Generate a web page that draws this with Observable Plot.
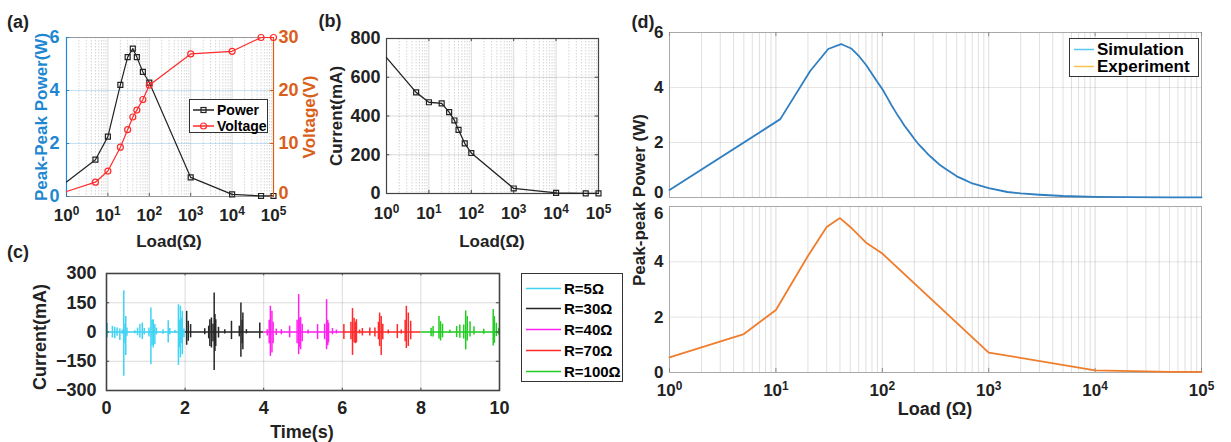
<!DOCTYPE html>
<html><head><meta charset="utf-8">
<script src="https://cdn.jsdelivr.net/npm/d3@7"></script>
<script src="https://cdn.jsdelivr.net/npm/@observablehq/plot@0.6"></script>
<style>
body{margin:0;background:#fff;}
#fig{position:relative;width:1231px;height:442px;overflow:hidden;font-family:"Liberation Sans",Arial,sans-serif;font-weight:bold;background:#fff;}
.lbl{position:absolute;white-space:nowrap;color:#222;line-height:1;}
.leg{position:absolute;background:#fff;border:1.3px solid #333;box-sizing:border-box;}
.leg .row{position:absolute;left:0;white-space:nowrap;line-height:1;}
</style></head><body><div id="fig"></div>
<script>
// ---------- data ----------
const loads = [1, 5, 10, 20, 30, 40, 50, 70, 100, 1000, 10000, 50000, 100000];
const powerW = [0.55, 1.39, 2.26, 4.21, 5.26, 5.58, 5.26, 4.70, 4.30, 0.72, 0.08, 0.02, 0.02];
const voltageV = [0.95, 2.7, 4.8, 9.3, 12.6, 15.0, 16.3, 18.3, 21.0, 26.9, 27.4, 30.0, 30.0];
const currentMA = [701, 522, 471, 465, 420, 377, 328, 259, 209, 26, 3, 1, 0.5];

const simLoad = [1, 11, 21, 31, 41, 51, 61, 71, 81, 91, 101, 111, 121, 131, 141, 151, 161, 181, 201, 221, 251, 271, 301, 351, 401, 451, 501, 601, 701, 801, 1001, 1501, 2001, 3001, 5001, 10001, 20001, 50001, 99991];
const simPower = [0.27, 2.85, 4.6, 5.4, 5.58, 5.42, 5.12, 4.8, 4.46, 4.17, 3.92, 3.64, 3.38, 3.16, 2.96, 2.79, 2.62, 2.36, 2.12, 1.92, 1.70, 1.56, 1.40, 1.17, 1.02, 0.89, 0.77, 0.63, 0.51, 0.45, 0.34, 0.2, 0.15, 0.1, 0.055, 0.025, 0.01, 0.004, 0.002];

const logMajor = [1, 10, 100, 1000, 10000, 100000];
const powerTicks = [0, 2, 4, 6];
const voltTicks = [0, 10, 20, 30];
const currentTicks = [0, 200, 400, 600, 800];
const cTimeTicks = [0, 2, 4, 6, 8, 10];
const cCurTicks = [-300, -150, 0, 150, 300];

const cSeries = ["R=5Ω", "R=30Ω", "R=40Ω", "R=70Ω", "R=100Ω"];
const cColors = ["#3fd3f4", "#262626", "#ff22ee", "#ff2a2a", "#22cc22"];
const cStart = [0, 2, 4, 6, 8];
const cEnd = [2, 4, 6, 8, 10];
// spikes: [time s, max mA, min mA]
const spikes5 = [[0.02,45,-30],[0.15,29,-31],[0.21,24,-34],[0.27,20,-22],[0.34,15,-44],[0.40,10,-12],[0.44,212,-227],[0.47,40,-60],[0.49,80,-120],[0.52,20,-22],[0.72,7,-9],[0.79,20,-19],[0.85,38,-31],[0.91,46,-39],[0.96,18,-15],[1.08,20,-25],[1.13,123,-168],[1.16,60,-70],[1.19,63,-82],[1.23,38,-65],[1.27,20,-15],[1.44,12,-12],[1.57,58,-56],[1.61,18,-14],[1.74,8,-8],[1.83,140,-171],[1.86,60,-80],[1.88,132,-133],[1.91,70,-60],[1.93,106,-116],[1.97,16,-30]];
const spikes30 = [[2.04,106,-68],[2.08,55,-48],[2.14,38,-30],[2.50,17,-14],[2.60,30,-35],[2.63,63,-74],[2.67,72,-82],[2.71,40,-50],[2.74,200,-198],[2.76,90,-100],[2.78,63,-74],[2.85,24,-31],[3.01,12,-10],[3.18,55,-39],[3.38,30,-25],[3.42,149,-130],[3.45,60,-60],[3.47,97,-91],[3.56,12,-10],[3.90,46,-34]];
const spikes40 = [[4.09,12,-20],[4.14,60,-60],[4.17,132,-125],[4.21,106,-108],[4.24,50,-60],[4.32,15,-18],[4.45,12,-14],[4.66,30,-30],[4.85,60,-60],[4.89,192,-116],[4.92,70,-80],[4.94,75,-91],[4.98,40,-50],[5.13,10,-10],[5.37,38,-39],[5.55,40,-40],[5.60,166,-91],[5.63,60,-70],[5.65,45,-55],[5.75,18,-14],[5.85,10,-10]];
const spikes70 = [[6.04,38,-39],[6.22,50,-40],[6.26,120,-120],[6.30,70,-55],[6.33,50,-60],[6.36,63,-56],[6.44,10,-10],[6.51,18,-20],[6.70,20,-20],[6.83,20,-25],[6.92,50,-40],[6.95,97,-74],[6.99,80,-120],[7.03,40,-40],[7.17,10,-10],[7.40,38,-34],[7.50,10,-10],[7.60,60,-50],[7.63,132,-85],[7.68,97,-74],[7.74,55,-40]];
const spikes100 = [[8.26,19,-24],[8.31,28,-26],[8.46,79,-36],[8.50,53,-46],[8.55,40,-30],[8.74,9,-7],[8.91,28,-29],[8.99,36,-32],[9.09,36,-36],[9.14,108,-92],[9.18,79,-46],[9.25,53,-26],[9.35,27,-15],[9.60,14,-12],[9.84,116,-72],[9.87,79,-58],[9.92,45,-24],[9.98,19,-15]];

// ---------- tables ----------
const aTable = loads.map((d, i) => ({load: d, power: powerW[i], voltage: voltageV[i], current: currentMA[i]}));
const simTable = simLoad.map((d, i) => ({load: d, power: simPower[i]}));
const spikeTable = [spikes5, spikes30, spikes40, spikes70, spikes100].flatMap((arr, k) =>
  arr.map(([t, hi, lo]) => ({series: cSeries[k], t, hi, lo})));
const segTable = cSeries.map((s, k) => ({series: s, x1: cStart[k], x2: cEnd[k]}));
const logMinor = logMajor.slice(0, -1).flatMap(d => [2,3,4,5,6,7,8,9].map(k => k * d));

// ---------- helpers ----------
const fig = document.getElementById("fig");
const FONT = '"Liberation Sans", Arial, sans-serif';
const base = (fs) => ({fontFamily: FONT, fontWeight: "bold", fontSize: fs + "px", background: "transparent", color: "#222", overflow: "visible"});
const expFmt = d => "10^" + Math.round(Math.log10(d));
function sup(svg) {
  svg.querySelectorAll("text").forEach(t => {
    const m = /^10\^(-?\d)$/.exec(t.textContent);
    if (m) {
      t.textContent = "10";
      const ts = document.createElementNS("http://www.w3.org/2000/svg", "tspan");
      ts.setAttribute("dy", "-0.45em");
      ts.setAttribute("font-size", "0.7em");
      ts.textContent = m[1];
      t.appendChild(ts);
    }
  });
}
function put(svg, x, y) {
  sup(svg);
  svg.style.position = "absolute"; svg.style.left = x + "px"; svg.style.top = y + "px";
  fig.appendChild(svg); return svg;
}
function txt(s, x, y, {size = 17, color = "#222", rot = 0} = {}) {
  const d = document.createElement("div");
  d.className = "lbl"; d.textContent = s;
  d.style.fontSize = size + "px"; d.style.color = color;
  d.style.left = x + "px"; d.style.top = y + "px";
  d.style.transform = `translate(-50%,-50%) rotate(${rot}deg)`;
  fig.appendChild(d);
}
function legend(x, y, w, h, rows, size) {
  const box = document.createElement("div");
  box.className = "leg";
  Object.assign(box.style, {left: x + "px", top: y + "px", width: w + "px", height: h + "px", fontSize: size + "px"});
  rows.forEach(r => {
    const row = document.createElement("div");
    row.className = "row";
    row.style.top = (r.y - size / 2) + "px";
    row.style.left = "0px";
    row.innerHTML = `<svg width="${r.lx2 + 2}" height="${size}" style="position:absolute;left:0;top:0;overflow:visible">` +
      `<line x1="${r.lx1}" x2="${r.lx2}" y1="${size / 2}" y2="${size / 2}" stroke="${r.color}" stroke-width="${r.sw || 1.5}"/>` +
      (r.marker === "square" ? `<rect x="${(r.lx1 + r.lx2) / 2 - 2.5}" y="${size / 2 - 2.5}" width="5" height="5" fill="none" stroke="${r.color}" stroke-width="1.2"/>` : "") +
      (r.marker === "circle" ? `<circle cx="${(r.lx1 + r.lx2) / 2}" cy="${size / 2}" r="3" fill="none" stroke="${r.color}" stroke-width="1.2"/>` : "") +
      `</svg><span style="position:absolute;left:${r.tx}px;top:0;">${r.label}</span>`;
    box.appendChild(row);
  });
  fig.appendChild(box);
}

const blueA = "#1f87d2", orangeA = "#d9601a", redV = "#ff2b2b";

// ---------- panel (a) ----------
put(Plot.plot({
  width: 300, height: 230, marginLeft: 66, marginRight: 27, marginTop: 37, marginBottom: 34,
  style: base(17),
  x: {type: "log", domain: [1, 1e5]},
  y: {domain: [0, 6]},
  marks: [
    Plot.gridX(logMinor, {stroke: "#888", strokeOpacity: 0.35, strokeDasharray: "1.5,1.5"}),
    Plot.gridX(logMajor, {stroke: "#888", strokeOpacity: 0.3}),
    Plot.gridY([2, 4], {stroke: blueA, strokeOpacity: 0.25}),
    Plot.frame({stroke: "#999"}),
    Plot.ruleX([1], {stroke: blueA, strokeWidth: 1.2}),
    Plot.ruleY(powerTicks, {x1: 1, x2: 1.2, stroke: blueA}),
    Plot.ruleX(logMajor, {y1: 0, y2: 0.12, stroke: "#666"}),
    Plot.axisX(logMajor, {tickFormat: expFmt, tickSize: 0, tickPadding: 12, label: null}),
    Plot.axisY(powerTicks, {tickSize: 0, tickPadding: 7, label: null, fill: blueA, fontSize: 18}),
    Plot.line(aTable, {x: "load", y: "power", stroke: "#222", strokeWidth: 1.2}),
    Plot.dot(aTable.slice(1), {x: "load", y: "power", symbol: "square", r: 2.8, stroke: "#222", fill: "none", strokeWidth: 1.2})
  ]
}), 0, 0);
put(Plot.plot({
  width: 300, height: 230, marginLeft: 66, marginRight: 27, marginTop: 37, marginBottom: 34,
  style: base(17),
  x: {type: "log", domain: [1, 1e5], axis: null},
  y: {domain: [0, 30]},
  marks: [
    Plot.ruleX([1e5], {stroke: orangeA, strokeWidth: 1.2}),
    Plot.ruleY(voltTicks, {x1: 1e5 / 1.2, x2: 1e5, stroke: orangeA}),
    Plot.axisY(voltTicks.slice(1), {anchor: "right", tickSize: 0, tickPadding: 5, label: null, fill: orangeA, fontSize: 18}),
    Plot.axisY(voltTicks.slice(0, 1), {anchor: "right", tickSize: 0, tickPadding: 5, label: null, fill: orangeA, fontSize: 18, dy: -3}),
    Plot.line(aTable, {x: "load", y: "voltage", stroke: redV, strokeWidth: 1.2}),
    Plot.dot(aTable.slice(1), {x: "load", y: "voltage", symbol: "circle", r: 3, stroke: redV, fill: "none", strokeWidth: 1.2})
  ]
}), 0, 0);
legend(189, 99, 79, 34, [
  {y: 10, lx1: 3, lx2: 24, color: "#222", marker: "square", tx: 27, label: "Power"},
  {y: 26, lx1: 3, lx2: 24, color: redV, marker: "circle", tx: 27, label: "Voltage"}
], 14);
txt("(a)", 18, 22, {size: 18});
txt("Peak-Peak Power(W)", 41, 117, {rot: -90, color: blueA});
txt("Voltage(V)", 309, 117, {rot: -90, color: orangeA});
txt("Load(Ω)", 169, 241);

// ---------- panel (b) ----------
put(Plot.plot({
  width: 320, height: 230, marginLeft: 86, marginRight: 22, marginTop: 38, marginBottom: 37,
  style: base(17),
  x: {type: "log", domain: [1, 1e5]},
  y: {domain: [0, 800]},
  marks: [
    Plot.gridX(logMinor, {stroke: "#888", strokeOpacity: 0.35, strokeDasharray: "1.5,1.5"}),
    Plot.gridX(logMajor, {stroke: "#888", strokeOpacity: 0.3}),
    Plot.gridY([200, 400, 600], {stroke: "#888", strokeOpacity: 0.3}),
    Plot.frame({stroke: "#444", strokeWidth: 1.2}),
    Plot.ruleX(logMajor, {y1: 0, y2: 16, stroke: "#444"}),
    Plot.ruleX(logMajor, {y1: 784, y2: 800, stroke: "#444"}),
    Plot.ruleY(currentTicks, {x1: 1, x2: 1.2, stroke: "#444"}),
    Plot.ruleY(currentTicks, {x1: 1e5 / 1.2, x2: 1e5, stroke: "#444"}),
    Plot.axisX(logMajor, {tickFormat: expFmt, tickSize: 0, tickPadding: 13, label: null}),
    Plot.axisY(currentTicks, {tickSize: 0, tickPadding: 6, label: null, fontSize: 18}),
    Plot.line(aTable, {x: "load", y: "current", stroke: "#222", strokeWidth: 1.3}),
    Plot.dot(aTable.slice(1), {x: "load", y: "current", symbol: "square", r: 2.8, stroke: "#222", fill: "none", strokeWidth: 1.2})
  ]
}), 300, 0);
txt("(b)", 330, 21, {size: 18});
txt("Current(mA)", 336, 116, {rot: -90});
txt("Load(Ω)", 492, 241);

// ---------- panel (c) ----------
put(Plot.plot({
  width: 515, height: 182, marginLeft: 106, marginRight: 16, marginTop: 13, marginBottom: 52,
  style: base(18),
  x: {domain: [0, 10]},
  y: {domain: [-300, 300]},
  color: {domain: cSeries, range: cColors},
  marks: [
    Plot.gridX([2, 4, 6, 8], {stroke: "#888", strokeOpacity: 0.3}),
    Plot.gridY([-150, 0, 150], {stroke: "#888", strokeOpacity: 0.3}),
    Plot.ruleY(segTable, {x1: "x1", x2: "x2", y: 0, stroke: "series", strokeWidth: 1.5}),
    Plot.ruleX(spikeTable, {x: "t", y1: "lo", y2: "hi", stroke: "series", strokeWidth: 1.5}),
    Plot.frame({stroke: "#444", strokeWidth: 1.6}),
    Plot.ruleX(cTimeTicks, {y1: -300, y2: -288, stroke: "#444"}),
    Plot.ruleX(cTimeTicks, {y1: 288, y2: 300, stroke: "#444"}),
    Plot.ruleY(cCurTicks, {x1: 0, x2: 0.08, stroke: "#444"}),
    Plot.ruleY(cCurTicks, {x1: 9.92, x2: 10, stroke: "#444"}),
    Plot.axisX(cTimeTicks, {tickSize: 0, tickPadding: 11, label: null}),
    Plot.axisY(cCurTicks, {tickSize: 0, tickPadding: 10, label: null})
  ]
}), 0, 260);
legend(521, 273, 102, 109, cSeries.map((s, k) => ({y: 14 + k * 20.8, lx1: 4, lx2: 39, color: cColors[k], tx: 42, label: s, sw: 1.6})), 15);
txt("(c)", 18, 252, {size: 18});
txt("Current(mA)", 40, 337, {rot: -90, size: 18});
txt("Time(s)", 302, 432, {size: 18});

// ---------- panel (d) ----------
const simBlue = "#2f7fc1", expOrange = "#ef7d2e";
put(Plot.plot({
  width: 606, height: 200, marginLeft: 44, marginRight: 30, marginTop: 32, marginBottom: 3,
  style: base(17),
  x: {type: "log", domain: [1, 1e5], axis: null},
  y: {domain: [0, 6]},
  marks: [
    Plot.gridX(logMinor, {stroke: "#999", strokeOpacity: 0.3}),
    Plot.gridX(logMajor, {stroke: "#999", strokeOpacity: 0.35}),
    Plot.gridY([2, 4], {stroke: "#999", strokeOpacity: 0.25}),
    Plot.frame({stroke: "#aaa"}),
    Plot.ruleX(logMajor, {y1: 5.85, y2: 6, stroke: "#888"}),
    Plot.axisY(powerTicks.slice(1), {tickSize: 0, tickPadding: 6, label: null}),
    Plot.axisY(powerTicks.slice(0, 1), {tickSize: 0, tickPadding: 6, label: null, dy: -5}),
    Plot.line(simTable, {x: "load", y: "power", stroke: simBlue, strokeWidth: 1.8})
  ]
}), 625, 0);
put(Plot.plot({
  width: 606, height: 242, marginLeft: 44, marginRight: 30, marginTop: 6, marginBottom: 70,
  style: base(17),
  x: {type: "log", domain: [1, 1e5]},
  y: {domain: [0, 6]},
  marks: [
    Plot.gridX(logMinor, {stroke: "#999", strokeOpacity: 0.3}),
    Plot.gridX(logMajor, {stroke: "#999", strokeOpacity: 0.35}),
    Plot.gridY([2, 4], {stroke: "#999", strokeOpacity: 0.25}),
    Plot.frame({stroke: "#aaa"}),
    Plot.ruleX(logMajor, {y1: 0, y2: 0.15, stroke: "#888"}),
    Plot.axisX(logMajor, {tickFormat: expFmt, tickSize: 0, tickPadding: 11, label: null}),
    Plot.axisY(powerTicks.slice(0, 3), {tickSize: 0, tickPadding: 6, label: null}),
    Plot.axisY(powerTicks.slice(3), {tickSize: 0, tickPadding: 6, label: null, dy: 7}),
    Plot.line(aTable, {x: "load", y: "power", stroke: expOrange, strokeWidth: 1.8})
  ]
}), 625, 200);
legend(1069, 38, 130, 39, [
  {y: 10, lx1: 4, lx2: 24, color: "#5bc6f0", tx: 27, label: "Simulation"},
  {y: 27, lx1: 4, lx2: 24, color: "#f7c04f", tx: 27, label: "Experiment"}
], 17);
txt("(d)", 643, 22, {size: 18});
txt("Peak-peak Power (W)", 639, 200, {rot: -90});
txt("Load (Ω)", 935, 409, {size: 18});
</script></body></html>
